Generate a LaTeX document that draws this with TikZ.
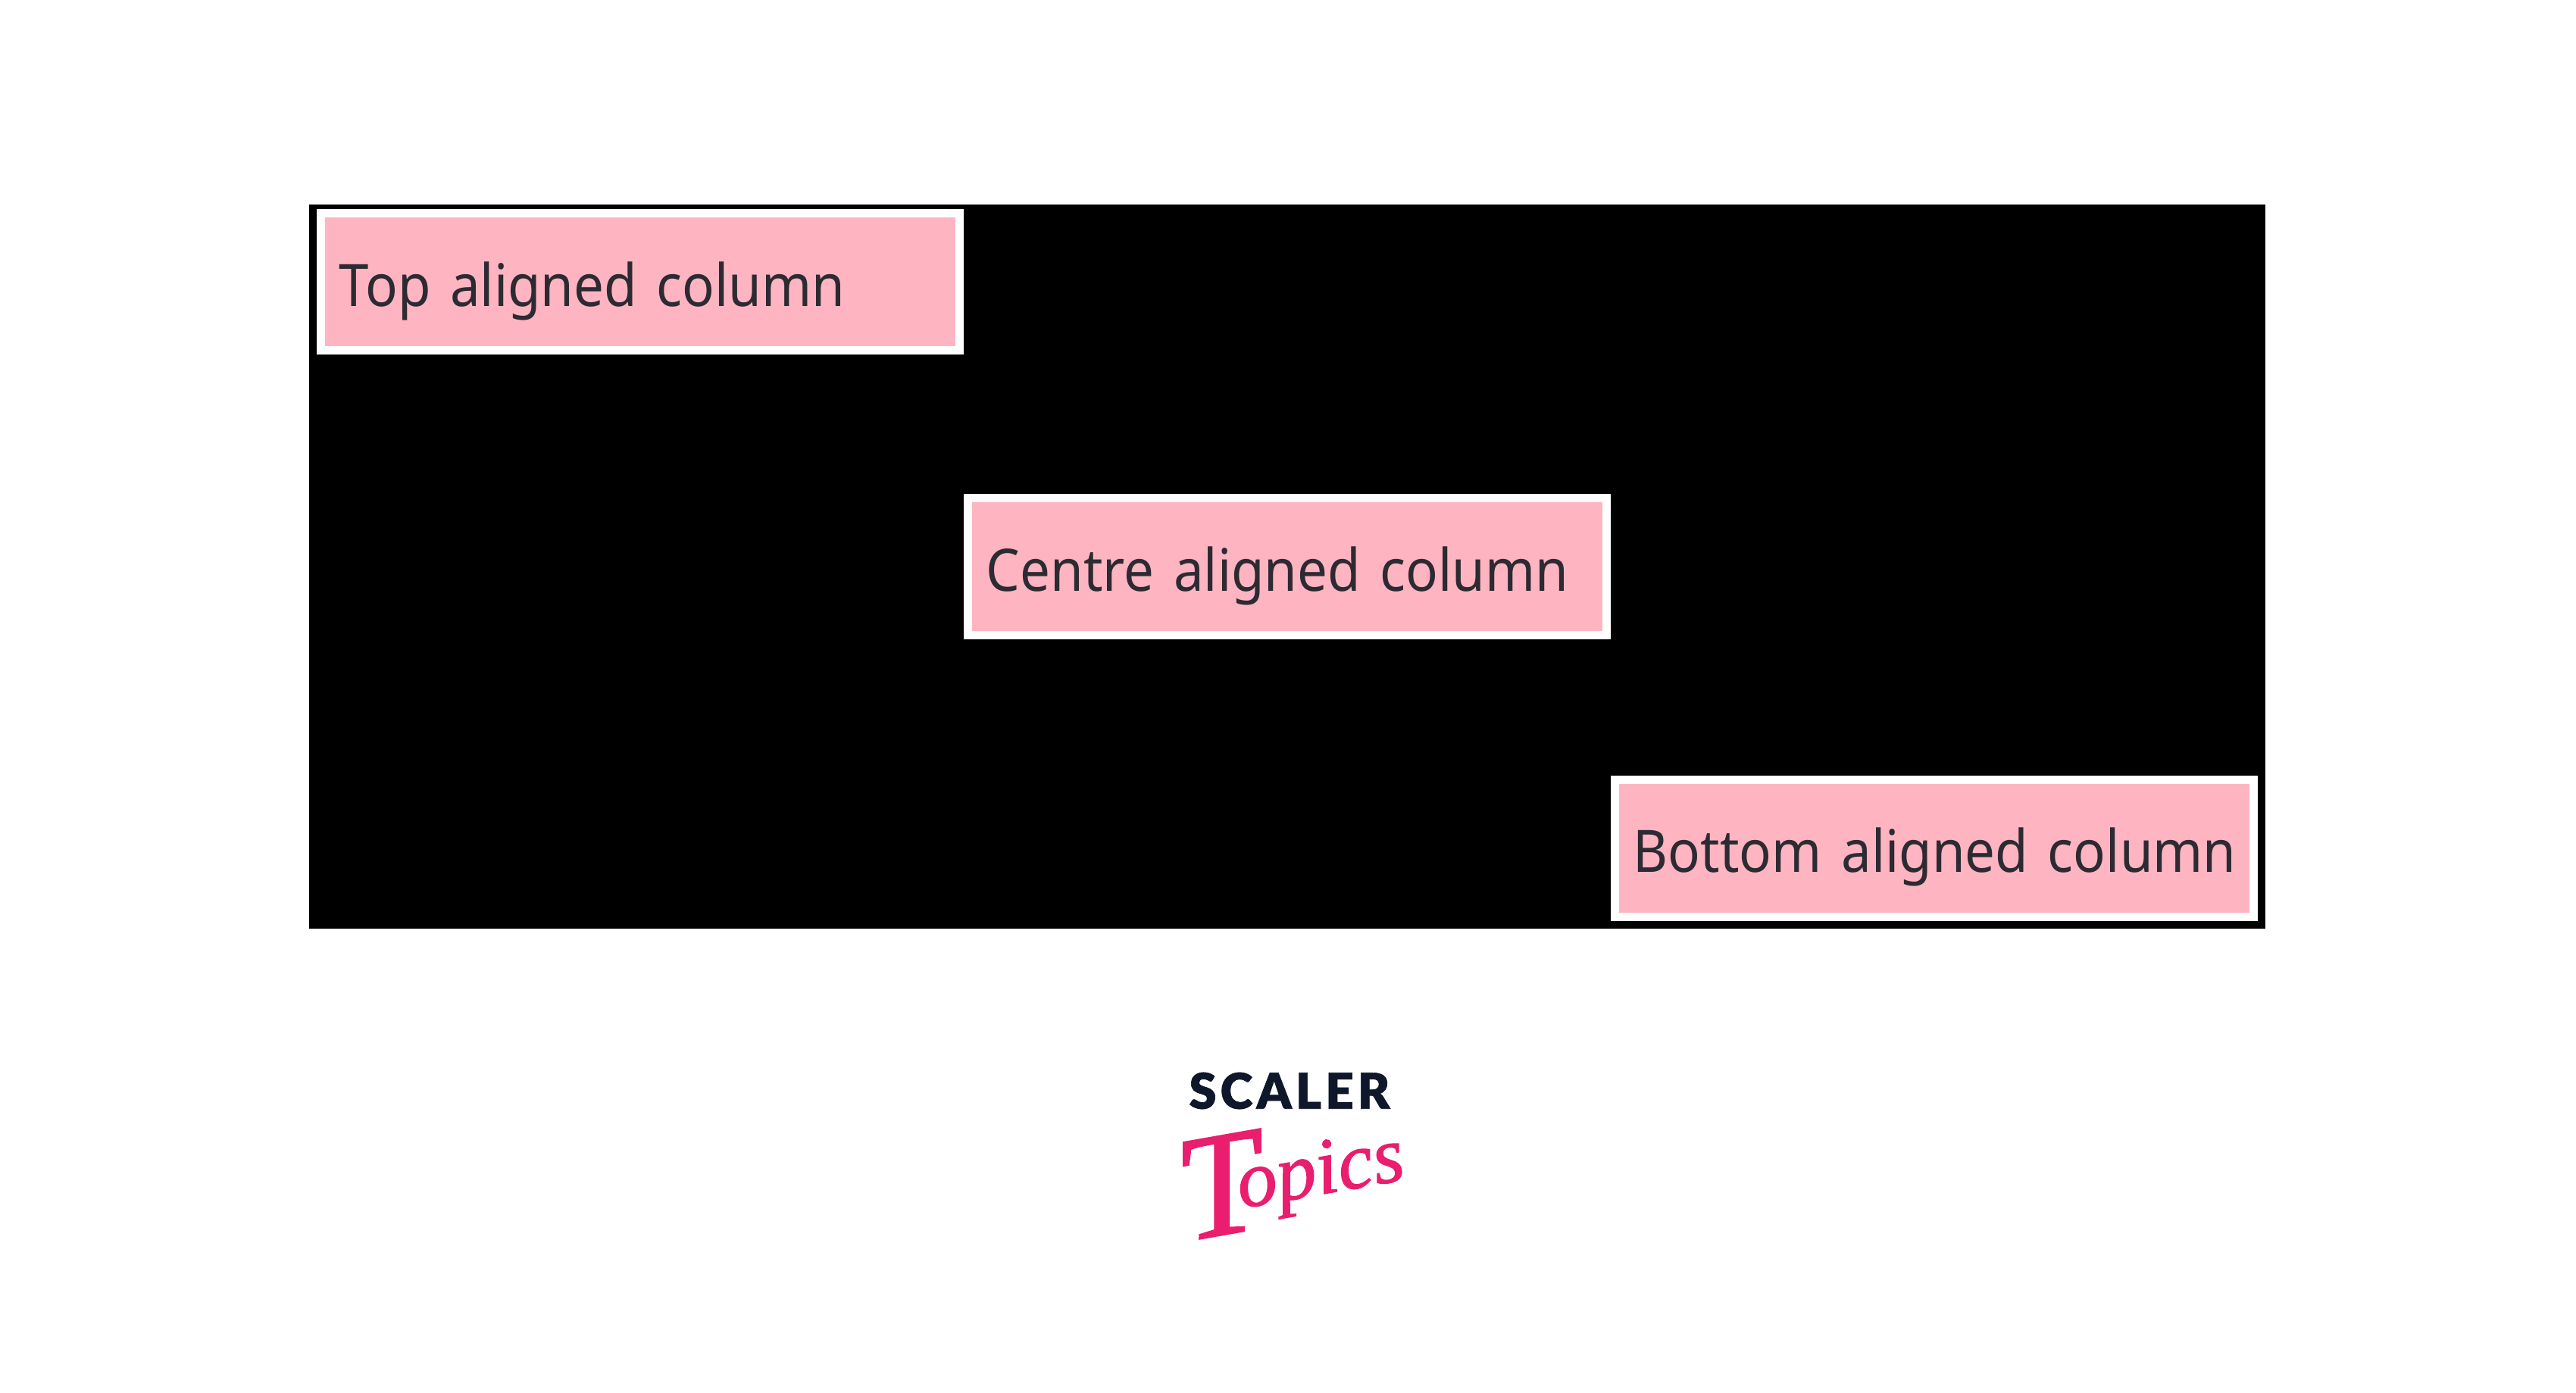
\documentclass[tikz,border=0pt]{standalone}
\usepackage{fontspec}
\setmainfont[FakeStretch=.915]{Noto Sans}
\newfontfamily\logofont[LetterSpace=8,FakeBold=1]{Lato Black}
\newfontfamily\topicsfont[FakeBold=1.2]{Liberation Serif}
\usetikzlibrary{positioning,calc}
\definecolor{Panel}{RGB}{0,0,0}
\definecolor{Blush}{RGB}{255,181,193}
\definecolor{Ink}{RGB}{44,42,50}
\definecolor{LogoNavy}{RGB}{15,23,42}
\definecolor{LogoPink}{RGB}{233,30,110}
\tikzset{
  colbox/.style={rectangle,draw=white,fill=Blush,line width=.11cm,outer sep=.055cm,
                 minimum height=1.81cm,text width=7.95cm,inner xsep=.24cm,inner ysep=0pt,
                 align=left,text=Ink,text height=.84cm,text depth=.2cm,
                 font=\fontsize{22}{26}\selectfont},
  panelbox/.style={rectangle,fill=Panel,inner sep=0pt,minimum width=25.82cm,minimum height=9.56cm},
}
\begin{document}
\begin{tikzpicture}
  \useasboundingbox[fill=white] (0,0) rectangle (34,-18.39);
  \node[panelbox] (panel) at (16.99,-7.48) {};
  % three columns
  \node[colbox,anchor=north west] (topcol) at ($(panel.north west)+(.11,-.07)$) {\mbox{Top aligned column}};
  \node[colbox,anchor=west] (centrecol) at (topcol.east |- panel.center) {\mbox{Centre aligned column}};
  \node[colbox,anchor=south west] (bottomcol) at ($(centrecol.east |- panel.south)+(0,.11)$) {\mbox{Bottom aligned column}};
  % logo
  \node[text=LogoNavy,font=\logofont\fontsize{18.5}{20}\selectfont,inner sep=0pt] (scaler) at (17.02,-14.40) {SCALER};
  \node[text=LogoPink,font=\topicsfont\itshape\fontsize{30}{30}\selectfont,inner sep=0pt,rotate=10,
        below=.18cm of scaler,xshift=-.1cm] (topics) {\raisebox{-.3cm}{\fontsize{56}{56}\selectfont T}\kern-9pt opics};
\end{tikzpicture}
\end{document}
